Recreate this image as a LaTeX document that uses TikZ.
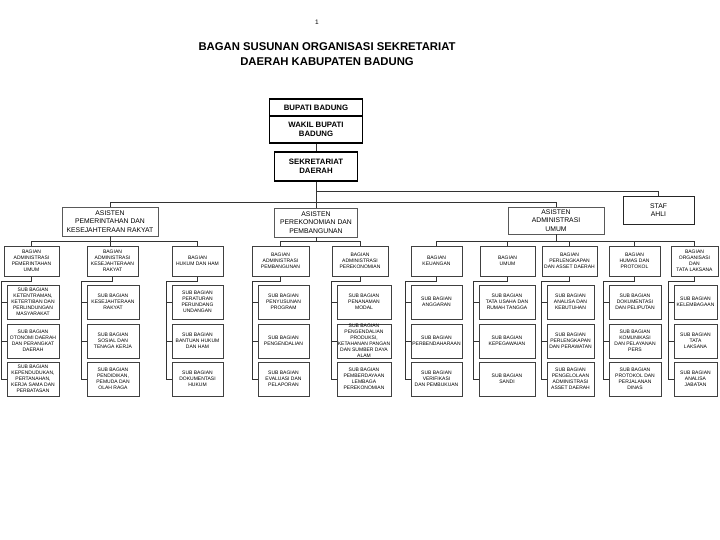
\documentclass[tikz,border=0pt]{standalone}
\usepackage{fontspec}
\setmainfont{Liberation Sans}

\begin{document}
\begin{tikzpicture}[x=1pt,y=-1pt,
  pimpinan/.style={draw=black,line width=1.5pt,font=\fontsize{7.8}{9.5}\selectfont\bfseries,align=center,inner sep=0pt},
  asisten/.style={draw=black!65,line width=0.9pt,font=\fontsize{6.8}{8.5}\selectfont,align=center,inner sep=0pt,minimum height=29pt},
  bagian/.style={draw=black!75,line width=1pt,font=\fontsize{5}{6}\selectfont,align=center,inner sep=0pt,minimum height=30pt},
  subbag/.style={bagian,minimum height=34pt},
  garis/.style={draw=black!80,line width=0.8pt}]
  \useasboundingbox (0,0) rectangle (720,540);
  \node[font=\fontsize{6.5}{8}\selectfont] (hal) at (317,22) {1};
  \node[font=\fontsize{11.3}{15}\selectfont\bfseries,align=center] (judul) at (327,54.5) {BAGAN SUSUNAN ORGANISASI SEKRETARIAT\\DAERAH KABUPATEN BADUNG};
  \node[pimpinan,minimum width=93pt,minimum height=17pt] (bupati) at (316,107.5) {BUPATI BADUNG};
  \node[pimpinan,minimum width=93pt,minimum height=27pt] (wakil) at (316,129.5) {WAKIL BUPATI\\BADUNG};
  \node[pimpinan,minimum width=83pt,minimum height=29pt] (sekda) at (316,166.5) {SEKRETARIAT\\DAERAH};
  \node[asisten,draw=black!85,minimum width=71pt,minimum height=28pt] (staf) at (658.5,210) {STAF\\AHLI};
  \node[asisten,minimum width=96pt] (as1) at (110,221.5) {ASISTEN\\PEMERINTAHAN DAN\\KESEJAHTERAAN RAKYAT};
  \node[asisten,minimum width=83pt] (as2) at (316,222.5) {ASISTEN\\PEREKONOMIAN DAN\\PEMBANGUNAN};
  \node[asisten,minimum width=96pt,minimum height=27pt] (as3) at (556,220.5) {ASISTEN\\ADMINISTRASI\\UMUM};
  \draw[garis] (wakil.south) -- (sekda.north);
  \draw[garis] (sekda.south) -- (as2.north);
  \draw[garis] (sekda.south) ++(0,10) -| (staf.north);
  \draw[garis] (as1.north) -- ++(0,-4) -| (as3.north);

  \node[bagian,minimum width=55pt] (b1) at (31.5,261) {BAGIAN\\ADMINISTRASI\\PEMERINTAHAN\\UMUM};
  \node[bagian,minimum width=51pt] (b2) at (112.5,261) {BAGIAN\\ADMINISTRASI\\KESEJAHTERAAN\\RAKYAT};
  \node[bagian,minimum width=51pt] (b3) at (197.5,261) {BAGIAN\\HUKUM DAN HAM};
  \node[bagian,minimum width=57pt] (b4) at (280.5,261) {BAGIAN\\ADMINISTRASI\\PEMBANGUNAN};
  \node[bagian,minimum width=56pt] (b5) at (360,261) {BAGIAN\\ADMINISTRASI\\PEREKONOMIAN};
  \node[bagian,minimum width=51pt] (b6) at (436.5,261) {BAGIAN\\KEUANGAN};
  \node[bagian,minimum width=55pt] (b7) at (507.5,261) {BAGIAN\\UMUM};
  \node[bagian,minimum width=55pt] (b8) at (569.5,261) {BAGIAN\\PERLENGKAPAN\\DAN ASSET DAERAH};
  \node[bagian,minimum width=51pt] (b9) at (634.5,261) {BAGIAN\\HUMAS DAN\\PROTOKOL};
  \node[bagian,minimum width=47pt] (b10) at (694.5,261) {BAGIAN\\ORGANISASI\\DAN\\TATA LAKSANA};
  \draw[garis] (b1.north) -- ++(0,-4) -| (b3.north);
  \draw[garis] (as1.south) -- (as1.south |- b2.north);
  \draw[garis] (b4.north) -- ++(0,-4) -| (b5.north);
  \draw[garis] (as2.south) -- ++(0,5);
  \draw[garis] (b6.north) -- ++(0,-4) -| (b10.north);
  \draw[garis] (b7.north) -- ++(0,-4) (b8.north) -- ++(0,-4) (b9.north) -- ++(0,-4);
  \draw[garis] (as3.south) -- ++(0,8);

  \node[subbag,minimum width=52pt] (s1a) at (33,302) {SUB BAGIAN\\KETENTRAMAN,\\KETERTIBAN DAN\\PERLINDUNGAN\\MASYARAKAT};
  \node[subbag,minimum width=52pt] (s1b) at (33,341) {SUB BAGIAN\\OTONOMI DAERAH\\DAN PERANGKAT\\DAERAH};
  \node[subbag,minimum width=52pt] (s1c) at (33,379) {SUB BAGIAN\\KEPENDUDUKAN,\\PERTANAHAN,\\KERJA SAMA DAN\\PERBATASAN};
  \node[subbag,minimum width=52pt] (s2a) at (113,302) {SUB BAGIAN\\KESEJAHTERAAN\\RAKYAT};
  \node[subbag,minimum width=52pt] (s2b) at (113,341) {SUB BAGIAN\\SOSIAL DAN\\TENAGA KERJA};
  \node[subbag,minimum width=52pt] (s2c) at (113,379) {SUB BAGIAN\\PENDIDIKAN,\\PEMUDA DAN\\OLAH RAGA};
  \node[subbag,minimum width=51pt] (s3a) at (197.5,302) {SUB BAGIAN\\PERATURAN\\PERUNDANG\\UNDANGAN};
  \node[subbag,minimum width=51pt] (s3b) at (197.5,341) {SUB BAGIAN\\BANTUAN HUKUM\\DAN HAM};
  \node[subbag,minimum width=51pt] (s3c) at (197.5,379) {SUB BAGIAN\\DOKUMENTASI\\HUKUM};
  \node[subbag,minimum width=51pt] (s4a) at (283.5,302) {SUB BAGIAN\\PENYUSUNAN\\PROGRAM};
  \node[subbag,minimum width=51pt] (s4b) at (283.5,341) {SUB BAGIAN\\PENGENDALIAN};
  \node[subbag,minimum width=51pt] (s4c) at (283.5,379) {SUB BAGIAN\\EVALUASI DAN\\PELAPORAN};
  \node[subbag,minimum width=54pt] (s5a) at (364,302) {SUB BAGIAN\\PENANAMAN\\MODAL};
  \node[subbag,minimum width=54pt] (s5b) at (364,341) {};
  \node[font=\fontsize{5}{6}\selectfont,align=center,inner sep=0pt] (s5bteks) at (s5b) {SUB BAGIAN\\PENGENDALIAN\\PRODUKSI,\\KETAHANAN PANGAN\\DAN SUMBER DAYA\\ALAM};
  \node[subbag,minimum width=54pt] (s5c) at (364,379) {SUB BAGIAN\\PEMBERDAYAAN\\LEMBAGA\\PEREKONOMIAN};
  \node[subbag,minimum width=51pt] (s6a) at (436.5,302) {SUB BAGIAN\\ANGGARAN};
  \node[subbag,minimum width=51pt] (s6b) at (436.5,341) {SUB BAGIAN\\PERBENDAHARAAN};
  \node[subbag,minimum width=51pt] (s6c) at (436.5,379) {SUB BAGIAN\\VERIFIKASI\\DAN PEMBUKUAN};
  \node[subbag,minimum width=56pt] (s7a) at (507,302) {SUB BAGIAN\\TATA USAHA DAN\\RUMAH TANGGA};
  \node[subbag,minimum width=56pt] (s7b) at (507,341) {SUB BAGIAN\\KEPEGAWAIAN};
  \node[subbag,minimum width=56pt] (s7c) at (507,379) {SUB BAGIAN\\SANDI};
  \node[subbag,minimum width=47pt] (s8a) at (570.5,302) {SUB BAGIAN\\ANALISA DAN\\KEBUTUHAN};
  \node[subbag,minimum width=47pt] (s8b) at (570.5,341) {SUB BAGIAN\\PERLENGKAPAN\\DAN PERAWATAN};
  \node[subbag,minimum width=47pt] (s8c) at (570.5,379) {SUB BAGIAN\\PENGELOLAAN\\ADMINISTRASI\\ASSET DAERAH};
  \node[subbag,minimum width=52pt] (s9a) at (635,302) {SUB BAGIAN\\DOKUMENTASI\\DAN PELIPUTAN};
  \node[subbag,minimum width=52pt] (s9b) at (635,341) {SUB BAGIAN\\KOMUNIKASI\\DAN PELAYANAN\\PERS};
  \node[subbag,minimum width=52pt] (s9c) at (635,379) {SUB BAGIAN\\PROTOKOL DAN\\PERJALANAN\\DINAS};
  \node[subbag,minimum width=43pt] (s10a) at (695.5,302) {SUB BAGIAN\\KELEMBAGAAN};
  \node[subbag,minimum width=43pt] (s10b) at (695.5,341) {SUB BAGIAN\\TATA\\LAKSANA};
  \node[subbag,minimum width=43pt] (s10c) at (695.5,379) {SUB BAGIAN\\ANALISA\\JABATAN};

  \draw[garis] (b1.south) -- ++(0,5) -| ([xshift=-5pt]s1c.west) -- (s1c.west) ([xshift=-5pt]s1a.west) -- (s1a.west) ([xshift=-5pt]s1b.west) -- (s1b.west);
  \draw[garis] (b2.south) -- ++(0,5) -| ([xshift=-5pt]s2c.west) -- (s2c.west) ([xshift=-5pt]s2a.west) -- (s2a.west) ([xshift=-5pt]s2b.west) -- (s2b.west);
  \draw[garis] (b3.south) -- ++(0,5) -| ([xshift=-5pt]s3c.west) -- (s3c.west) ([xshift=-5pt]s3a.west) -- (s3a.west) ([xshift=-5pt]s3b.west) -- (s3b.west);
  \draw[garis] (b4.south) -- ++(0,5) -| ([xshift=-5pt]s4c.west) -- (s4c.west) ([xshift=-5pt]s4a.west) -- (s4a.west) ([xshift=-5pt]s4b.west) -- (s4b.west);
  \draw[garis] (b5.south) -- ++(0,5) -| ([xshift=-5pt]s5c.west) -- (s5c.west) ([xshift=-5pt]s5a.west) -- (s5a.west) ([xshift=-5pt]s5b.west) -- (s5b.west);
  \draw[garis] (b6.south) -- ++(0,5) -| ([xshift=-5pt]s6c.west) -- (s6c.west) ([xshift=-5pt]s6a.west) -- (s6a.west) ([xshift=-5pt]s6b.west) -- (s6b.west);
  \draw[garis] (b7.south) -- ++(0,5) -| ([xshift=-5pt]s7c.west) -- (s7c.west) ([xshift=-5pt]s7a.west) -- (s7a.west) ([xshift=-5pt]s7b.west) -- (s7b.west);
  \draw[garis] (b8.south) -- ++(0,5) -| ([xshift=-5pt]s8c.west) -- (s8c.west) ([xshift=-5pt]s8a.west) -- (s8a.west) ([xshift=-5pt]s8b.west) -- (s8b.west);
  \draw[garis] (b9.south) -- ++(0,5) -| ([xshift=-5pt]s9c.west) -- (s9c.west) ([xshift=-5pt]s9a.west) -- (s9a.west) ([xshift=-5pt]s9b.west) -- (s9b.west);
  \draw[garis] (b10.south) -- ++(0,5) -| ([xshift=-5pt]s10c.west) -- (s10c.west) ([xshift=-5pt]s10a.west) -- (s10a.west) ([xshift=-5pt]s10b.west) -- (s10b.west);
\end{tikzpicture}
\end{document}
